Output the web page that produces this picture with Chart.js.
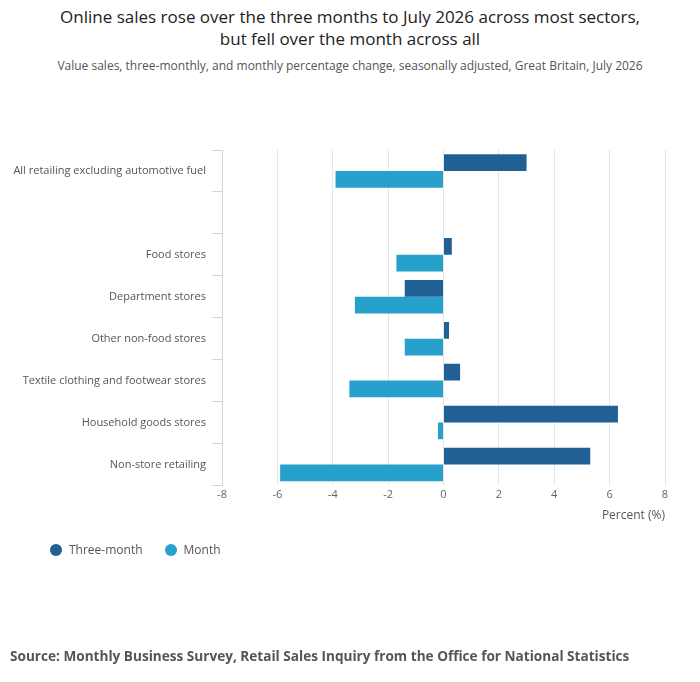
<!DOCTYPE html>
<html>
<head>
<meta charset="utf-8">
<script src="https://cdn.jsdelivr.net/npm/chart.js@4"></script>
<style>
  body { margin: 0; font-family: "Open Sans", sans-serif; background: #fff; }
  #wrap { position: relative; width: 700px; height: 682px; }
  canvas { position: absolute; left: 0; top: 0; }
  .title { position: absolute; top: 6px; left: 0; width: 700px; text-align: center; font-size: 17px; color: #222; line-height: 22px; }
  .sub { position: absolute; top: 57px; left: 0; width: 700px; text-align: center; font-size: 12px; color: #555; }
  .legend { position: absolute; top: 541px; left: 50px; font-size: 12px; color: #555; display: flex; gap: 22px; }
  .legend span { display: inline-flex; align-items: center; }
  .legend i { display: inline-block; width: 12px; height: 12px; border-radius: 50%; margin-right: 7px; }
  .source { position: absolute; top: 646px; left: 10px; font-size: 13.6px; font-weight: bold; color: #555; }
</style>
</head>
<body>
<div id="wrap">
  <div class="title">Online sales rose over the three months to July 2026 across most sectors,<br>but fell over the month across all</div>
  <div class="sub">Value sales, three-monthly, and monthly percentage change, seasonally adjusted, Great Britain, July 2026</div>
  <canvas id="chart" width="700" height="682"></canvas>
  <div class="legend">
    <span><i style="background:#206095"></i>Three-month</span>
    <span><i style="background:#27a0cc"></i>Month</span>
  </div>
  <div class="source">Source: Monthly Business Survey, Retail Sales Inquiry from the Office for National Statistics</div>
</div>
<script>
const categories = ["All retailing excluding automotive fuel", "", "Food stores", "Department stores",
  "Other non-food stores", "Textile clothing and footwear stores", "Household goods stores", "Non-store retailing"];
const threeMonth = [3.0, null, 0.3, -1.4, 0.2, 0.6, 6.3, 5.3];
const month = [-3.9, null, -1.7, -3.2, -1.4, -3.4, -0.2, -5.9];

new Chart(document.getElementById("chart"), {
  type: "bar",
  data: {
    labels: categories,
    datasets: [
      { label: "Three-month", data: threeMonth, backgroundColor: "#206095", categoryPercentage: 0.8, barPercentage: 1 },
      { label: "Month", data: month, backgroundColor: "#27a0cc", categoryPercentage: 0.8, barPercentage: 1 }
    ]
  },
  options: {
    indexAxis: "y",
    responsive: false,
    animation: false,
    layout: { padding: { top: 150, left: 10, right: 35, bottom: 155 } },
    plugins: { legend: { display: false }, tooltip: { enabled: false } },
    scales: {
      x: {
        min: -8, max: 8,
        ticks: { stepSize: 2, color: "#666", font: { family: "Open Sans", size: 11 } },
        grid: { color: "#e5e5e5", drawTicks: false },
        border: { display: false },
        title: { display: true, text: "Percent (%)", align: "end", color: "#555", font: { family: "Open Sans", size: 12 } }
      },
      y: {
        afterFit: (s) => { s.width = 212; },
        ticks: { color: "#555", font: { family: "Open Sans", size: 11 }, padding: 6 },
        grid: { offset: true, drawOnChartArea: false, tickLength: 10, color: "#ccd6e6" },
        border: { color: "#ccd6e6" }
      }
    }
  }
});
</script>
</body>
</html>
